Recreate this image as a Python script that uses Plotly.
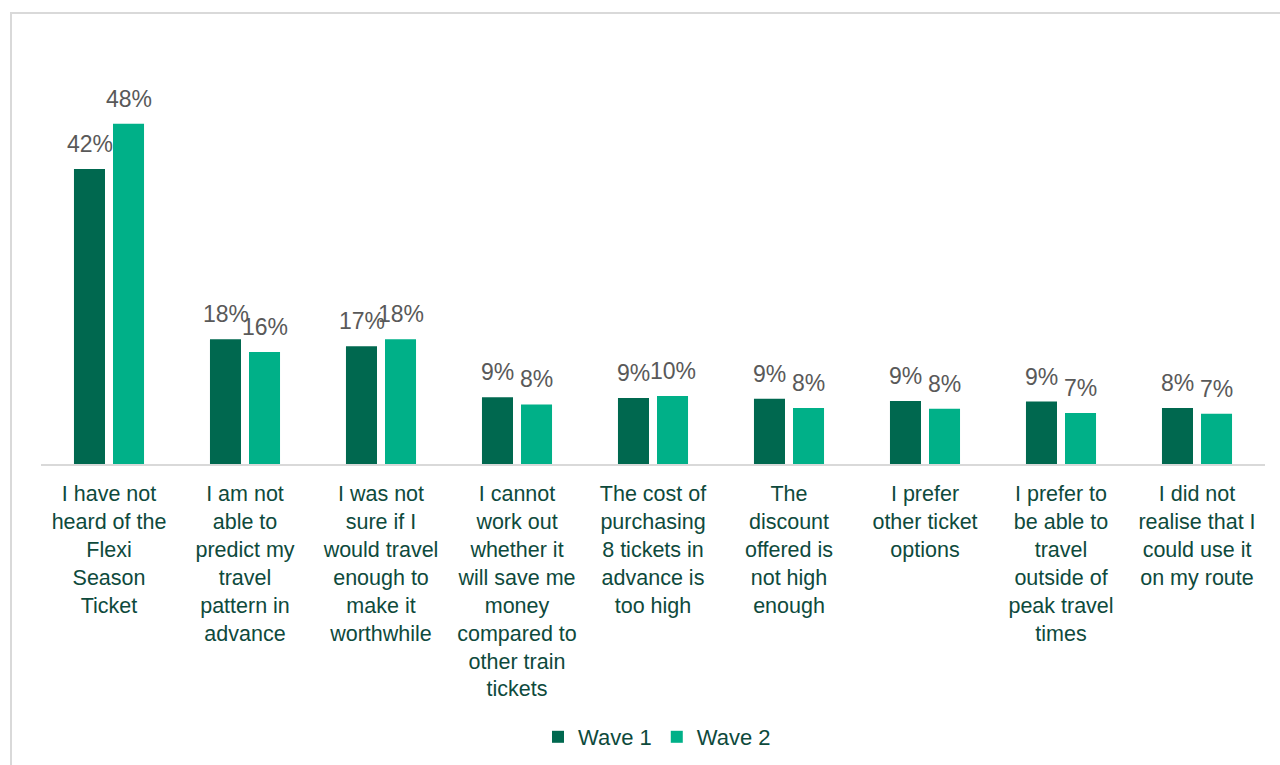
import plotly.graph_objects as go

categories = [
    "I have not<br>heard of the<br>Flexi<br>Season<br>Ticket",
    "I am not<br>able to<br>predict my<br>travel<br>pattern in<br>advance",
    "I was not<br>sure if I<br>would travel<br>enough to<br>make it<br>worthwhile",
    "I cannot<br>work out<br>whether it<br>will save me<br>money<br>compared to<br>other train<br>tickets",
    "The cost of<br>purchasing<br>8 tickets in<br>advance is<br>too high",
    "The<br>discount<br>offered is<br>not high<br>enough",
    "I prefer<br>other ticket<br>options",
    "I prefer to<br>be able to<br>travel<br>outside of<br>peak travel<br>times",
    "I did not<br>realise that I<br>could use it<br>on my route",
]
wave1 = [41.6, 17.6, 16.6, 9.4, 9.3, 9.2, 8.9, 8.8, 7.9]
wave2 = [48.0, 15.8, 17.6, 8.4, 9.6, 7.9, 7.8, 7.2, 7.1]
series_names = ["Wave 1", "Wave 2"]
colors = ["#00684F", "#00B088"]
offsets = [-19.5, 19.5]

fig = go.Figure()
annotations = []
for name, vals, col, off in zip(series_names, [wave1, wave2], colors, offsets):
    fig.add_trace(go.Bar(
        name=name, x=categories, y=vals, marker_color=col,
        marker_line_width=0,
    ))
    for c, v in zip(categories, vals):
        annotations.append(dict(
            x=c, y=v, xref="x", yref="y", text=f"{v:.0f}%", showarrow=False,
            xshift=off, yshift=10, yanchor="bottom", xanchor="center",
            font=dict(family="Liberation Sans, Arial", size=23, color="#595959"),
        ))

fig.update_layout(
    width=1280, height=765,
    margin=dict(l=41, r=15, t=67, b=301, autoexpand=False),
    barmode="group", bargap=0.426, bargroupgap=0.205,
    plot_bgcolor="white", paper_bgcolor="white",
    font=dict(family="Liberation Sans, Arial", size=21.5, color="#0E4A3C"),
    showlegend=True,
    legend=dict(orientation="h", x=657 / 1280, xanchor="center", xref="container",
                y=1 - 737 / 765, yanchor="middle", yref="container",
                font=dict(size=22, color="#0E4A3C"), itemwidth=30, traceorder="normal"),
    xaxis=dict(showline=True, linecolor="#D9D9D9", linewidth=2, ticks="",
               ticklabelstandoff=9, automargin=False,
               tickfont=dict(size=21.5, color="#0E4A3C"), showgrid=False),
    yaxis=dict(range=[0, 56], visible=False, showgrid=False),
    annotations=annotations,
    shapes=[dict(type="rect", xref="paper", yref="paper",
                 x0=(11 - 41) / 1224, x1=1.02, y0=-(770 - 464) / 397, y1=(464 - 13) / 397,
                 line=dict(color="#D9D9D9", width=2), fillcolor="rgba(0,0,0,0)", layer="below")],
)

fig.write_html("out.html")
